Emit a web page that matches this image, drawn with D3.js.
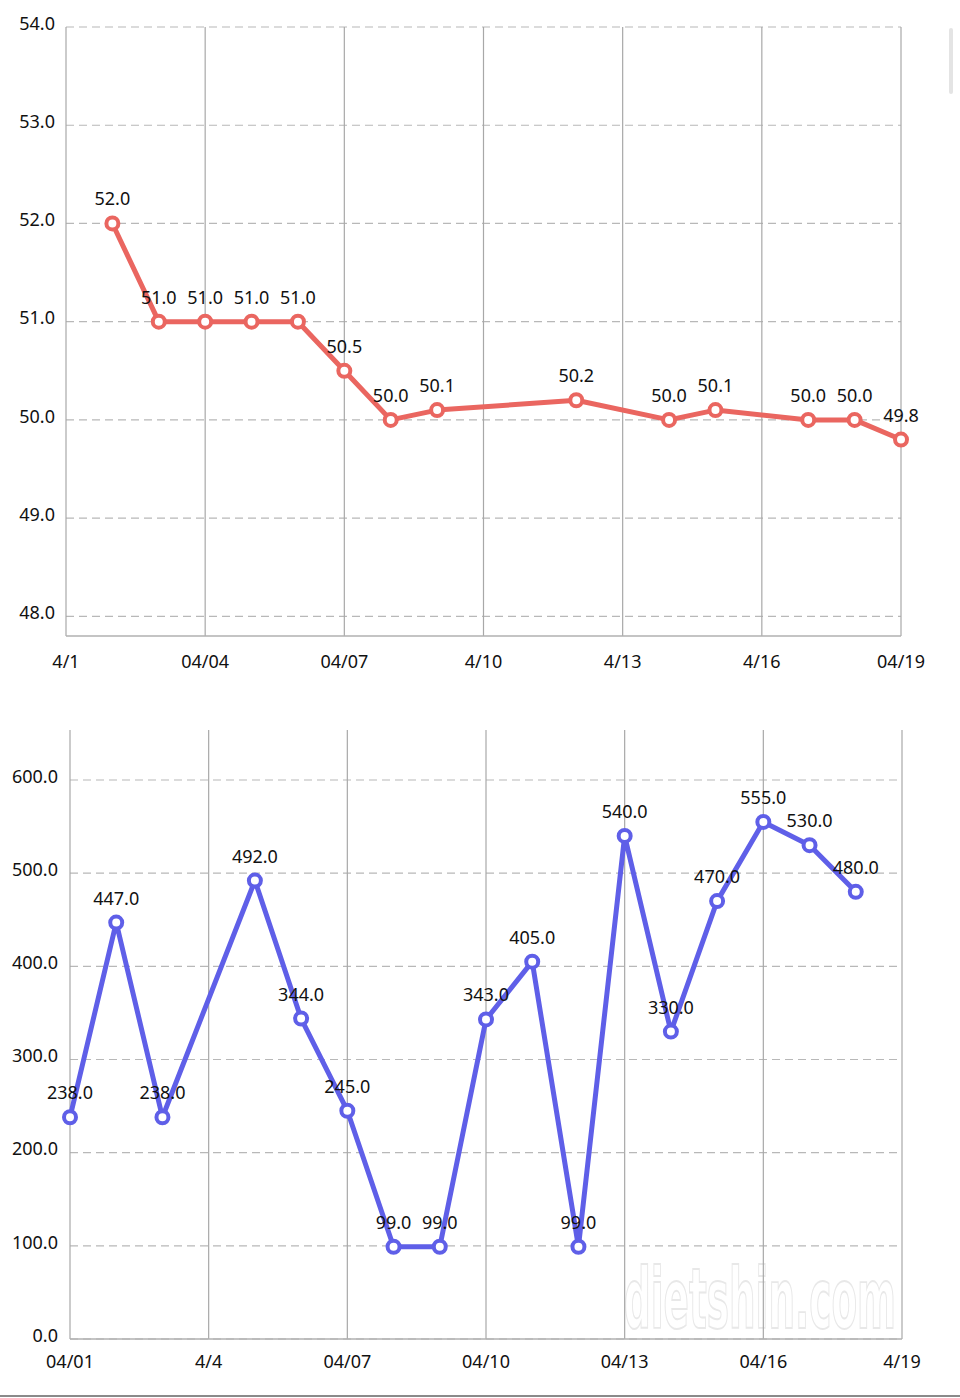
<!DOCTYPE html>
<html>
<head>
<meta charset="utf-8">
<script src="https://cdn.jsdelivr.net/npm/d3@7"></script>
<style>
  html, body { margin: 0; padding: 0; background: #fff; }
  svg { display: block; font-family: "Noto Sans", sans-serif; }
</style>
</head>
<body>
<svg id="chart" width="960" height="1398"></svg>
<script>
// weight chart (top)
const weightDays = [2, 3, 4, 5, 6, 7, 8, 9, 12, 14, 15, 17, 18, 19];
const weightValues = [52.0, 51.0, 51.0, 51.0, 51.0, 50.5, 50.0, 50.1, 50.2, 50.0, 50.1, 50.0, 50.0, 49.8];
const weightYTicks = [48, 49, 50, 51, 52, 53, 54];
const weightXTicks = [1, 4, 7, 10, 13, 16, 19];
const weightXLabels = ['4/1', '04/04', '04/07', '4/10', '4/13', '4/16', '04/19'];

// calories chart (bottom)
const calDays = [1, 2, 3, 5, 6, 7, 8, 9, 10, 11, 12, 13, 14, 15, 16, 17, 18];
const calValues = [238, 447, 238, 492, 344, 245, 99, 99, 343, 405, 99, 540, 330, 470, 555, 530, 480];
const calYTicks = [0, 100, 200, 300, 400, 500, 600];
const calXTicks = [1, 4, 7, 10, 13, 16, 19];
const calXLabels = ['04/01', '4/4', '04/07', '04/10', '04/13', '04/16', '4/19'];

const svg = d3.select('#chart');
const FS = 18;

function drawChart(cfg) {
  const { x, y, days, values, yTicks, xTicks, xLabels, color, top, bottom, left, right, yLabelX, xLabelY } = cfg;
  const g = svg.append('g');

  // horizontal dashed grid
  g.selectAll('line.hgrid')
    .data(yTicks)
    .join('line')
    .attr('x1', left).attr('x2', right)
    .attr('y1', d => y(d)).attr('y2', d => y(d))
    .attr('stroke', '#b8b8b8')
    .attr('stroke-width', 1.2)
    .attr('stroke-dasharray', '8,5');

  // vertical grid
  g.selectAll('line.vgrid')
    .data(xTicks)
    .join('line')
    .attr('x1', d => x(d)).attr('x2', d => x(d))
    .attr('y1', top).attr('y2', bottom)
    .attr('stroke', '#a8a8a8')
    .attr('stroke-width', 1.2);

  // bottom axis line
  g.append('line')
    .attr('x1', left).attr('x2', right)
    .attr('y1', bottom).attr('y2', bottom)
    .attr('stroke', '#b0b0b0')
    .attr('stroke-width', 1.5);

  // y tick labels
  g.selectAll('text.ylab')
    .data(yTicks)
    .join('text')
    .attr('x', yLabelX)
    .attr('y', d => y(d))
    .attr('dy', '0.15em')
    .attr('text-anchor', 'end')
    .attr('font-size', FS)
    .attr('fill', '#111')
    .text(d => d.toFixed(1));

  // x tick labels
  g.selectAll('text.xlab')
    .data(xTicks)
    .join('text')
    .attr('x', d => x(d))
    .attr('y', xLabelY)
    .attr('text-anchor', 'middle')
    .attr('font-size', FS)
    .attr('fill', '#111')
    .text((d, i) => xLabels[i]);

  const pts = days.map((d, i) => [d, values[i]]);

  g.append('path')
    .datum(pts)
    .attr('fill', 'none')
    .attr('stroke', color)
    .attr('stroke-width', 5)
    .attr('stroke-linejoin', 'round')
    .attr('d', d3.line().x(d => x(d[0])).y(d => y(d[1])));

  g.selectAll('circle.pt')
    .data(pts)
    .join('circle')
    .attr('cx', d => x(d[0]))
    .attr('cy', d => y(d[1]))
    .attr('r', 6)
    .attr('fill', '#fff')
    .attr('stroke', color)
    .attr('stroke-width', 4);

  g.selectAll('text.val')
    .data(pts)
    .join('text')
    .attr('x', d => x(d[0]))
    .attr('y', d => y(d[1]) - 18)
    .attr('text-anchor', 'middle')
    .attr('font-size', FS)
    .attr('fill', '#111')
    .text(d => d[1].toFixed(1));
}

// faint site watermark, drawn first so the chart sits over it
svg.append('text')
  .attr('transform', 'translate(624,1328) scale(1,1.6)')
  .attr('font-size', 52)
  .attr('font-family', '"Liberation Sans Narrow", "DejaVu Sans", sans-serif')
  .attr('font-weight', 'bold')
  .attr('textLength', 272)
  .attr('lengthAdjust', 'spacingAndGlyphs')
  .attr('fill', '#fff')
  .attr('stroke', '#e8e8e8')
  .attr('stroke-width', 1.2)
  .text('dietshin.com');

const yTop = d3.scaleLinear().domain([47.8, 54]).range([636, 27]);
const xTop = d3.scaleLinear().domain([1, 19]).range([66, 901]);
drawChart({
  x: xTop, y: yTop, days: weightDays, values: weightValues,
  yTicks: weightYTicks, xTicks: weightXTicks, xLabels: weightXLabels,
  color: '#ea6660', top: 27, bottom: 636, left: 66, right: 901,
  yLabelX: 55, xLabelY: 668
});

const yBot = d3.scaleLinear().domain([0, 600]).range([1339, 780]);
const xBot = d3.scaleLinear().domain([1, 19]).range([70, 902]);
drawChart({
  x: xBot, y: yBot, days: calDays, values: calValues,
  yTicks: calYTicks, xTicks: calXTicks, xLabels: calXLabels,
  color: '#5f5fe8', top: 730, bottom: 1339, left: 70, right: 902,
  yLabelX: 58, xLabelY: 1368
});

// scroll indicator
svg.append('rect')
  .attr('x', 949).attr('y', 28).attr('width', 4).attr('height', 66)
  .attr('rx', 2).attr('fill', '#e4e4e4');

// bottom divider
svg.append('line')
  .attr('x1', 0).attr('x2', 960)
  .attr('y1', 1396).attr('y2', 1396)
  .attr('stroke', '#8a8a8a')
  .attr('stroke-width', 2);
</script>
</body>
</html>
